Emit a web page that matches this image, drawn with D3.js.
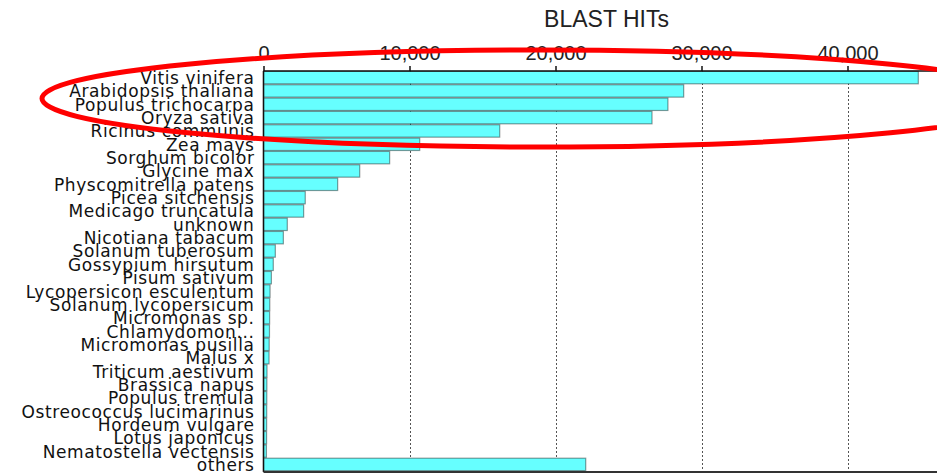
<!DOCTYPE html>
<html>
<head>
<meta charset="utf-8">
<script src="https://cdn.jsdelivr.net/npm/d3@7"></script>
<style>
  body { margin: 0; background: #fff; }
  svg { display: block; }
</style>
</head>
<body>
<svg id="chart" width="937" height="474"></svg>
<script>
const species = [
  'Vitis vinifera', 'Arabidopsis thaliana', 'Populus trichocarpa', 'Oryza sativa',
  'Ricinus communis', 'Zea mays', 'Sorghum bicolor', 'Glycine max',
  'Physcomitrella patens', 'Picea sitchensis', 'Medicago truncatula', 'unknown',
  'Nicotiana tabacum', 'Solanum tuberosum', 'Gossypium hirsutum', 'Pisum sativum',
  'Lycopersicon esculentum', 'Solanum lycopersicum', 'Micromonas sp.', 'Chlamydomon...',
  'Micromonas pusilla', 'Malus x', 'Triticum aestivum', 'Brassica napus',
  'Populus tremula', 'Ostreococcus lucimarinus', 'Hordeum vulgare', 'Lotus japonicus',
  'Nematostella vectensis', 'others',
];
const hits = [
  44850, 28780, 27700, 26610,
  16180, 10700, 8640, 6590,
  5080, 2860, 2750, 1630,
  1360, 810, 670, 540,
  450, 430, 420, 410,
  390, 380, 240, 230,
  225, 220, 215, 210,
  200, 22070,
];
const tickValues = [0, 10000, 20000, 30000, 40000];
const title = 'BLAST HITs';

const margin = { top: 71, left: 263.5, bottom: 3 };
const svg = d3.select('#chart');
const width = +svg.attr('width');
const height = +svg.attr('height');

const data = species.map((s, i) => ({ name: s, value: hits[i] }));

// 146px per 10,000 hits, runs off the right edge like the original
const xScale = d3.scaleLinear()
  .domain([0, 50000])
  .range([margin.left, margin.left + 730]);

const yScale = d3.scaleBand()
  .domain(species)
  .range([margin.top, height - margin.bottom])
  .paddingInner(0.07)
  .paddingOuter(0.03);

// dashed grid lines
svg.append('g')
  .selectAll('line')
  .data(tickValues.slice(1))
  .enter()
  .append('line')
  .attr('x1', d => Math.round(xScale(d)) + 0.5)
  .attr('x2', d => Math.round(xScale(d)) + 0.5)
  .attr('y1', margin.top)
  .attr('y2', height - margin.bottom)
  .attr('stroke', '#555')
  .attr('stroke-width', 1)
  .attr('stroke-dasharray', '2,2');

// bars
svg.append('g')
  .selectAll('rect')
  .data(data)
  .enter()
  .append('rect')
  .attr('x', xScale(0))
  .attr('y', d => yScale(d.name))
  .attr('width', d => xScale(d.value) - xScale(0))
  .attr('height', yScale.bandwidth())
  .attr('fill', '#66ffff')
  .attr('stroke', 'rgba(0,0,0,0.4)')
  .attr('stroke-width', 1.2);

// top axis
const xAxis = d3.axisTop(xScale)
  .tickValues(tickValues)
  .tickFormat(d3.format(','))
  .tickSize(5)
  .tickSizeOuter(0);

const gX = svg.append('g')
  .attr('transform', `translate(0, ${margin.top})`)
  .call(xAxis);
gX.select('.domain').remove();
gX.selectAll('.tick line').attr('stroke', '#111').attr('stroke-width', 1.5);
gX.selectAll('.tick text')
  .attr('y', -11)
  .attr('fill', '#222')
  .style('font-family', '"Liberation Sans", Arial, sans-serif')
  .style('font-size', '20px');

svg.append('line')
  .attr('x1', margin.left).attr('x2', width)
  .attr('y1', margin.top).attr('y2', margin.top)
  .attr('stroke', '#111').attr('stroke-width', 1.5);

svg.append('line')
  .attr('x1', margin.left).attr('x2', margin.left)
  .attr('y1', margin.top).attr('y2', height - 2)
  .attr('stroke', '#111').attr('stroke-width', 1.5);

svg.append('line')
  .attr('x1', margin.left).attr('x2', width)
  .attr('y1', height - 2).attr('y2', height - 2)
  .attr('stroke', '#333').attr('stroke-width', 2);

// category labels (they overlap in the original too)
svg.append('g')
  .selectAll('text')
  .data(data)
  .enter()
  .append('text')
  .attr('x', margin.left - 9)
  .attr('y', d => yScale(d.name) + yScale.bandwidth() / 2 + 6.5)
  .attr('text-anchor', 'end')
  .attr('fill', '#111')
  .style('font-family', '"DejaVu Sans", sans-serif')
  .style('font-size', '17px')
  .style('letter-spacing', '0.6px')
  .text(d => d.name);

svg.append('text')
  .attr('x', 606.5)
  .attr('y', 27)
  .attr('text-anchor', 'middle')
  .attr('fill', '#222')
  .style('font-family', '"Liberation Sans", Arial, sans-serif')
  .style('font-size', '23px')
  .text(title);

// red highlight ellipse around the top entries
svg.append('ellipse')
  .attr('cx', 539)
  .attr('cy', 98.5)
  .attr('rx', 497)
  .attr('ry', 48.5)
  .attr('fill', 'none')
  .attr('stroke', '#f00')
  .attr('stroke-width', 5);
</script>
</body>
</html>
